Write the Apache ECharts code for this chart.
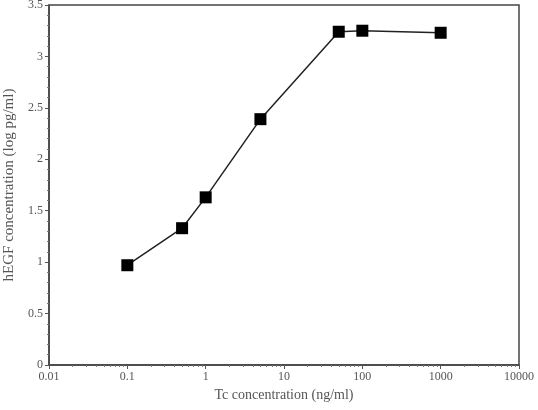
<!DOCTYPE html>
<html><head><meta charset="utf-8">
<script src="https://cdn.jsdelivr.net/npm/echarts@6/dist/echarts.min.js"></script>
<style>html,body{margin:0;padding:0;background:#fff}#c{width:538px;height:410px}</style>
</head><body><div id="c"></div>
<script>
var xValues = [0.1, 0.5, 1, 5, 50, 100, 1000];
var yValues = [0.97, 1.33, 1.63, 2.39, 3.24, 3.25, 3.23];
var xTitle = 'Tc concentration (ng/ml)';
var yTitle = 'hEGF concentration (log pg/ml)';

var data = xValues.map(function(x, i){ return [x, yValues[i]]; });
var font = 'Liberation Serif';
var chart = echarts.init(document.getElementById('c'));
chart.setOption({
  animation: false,
  grid: {left: 49, right: 19, top: 5, bottom: 45, show: true, borderColor: '#444', borderWidth: 1.5,
    outerBoundsMode: 'none', containLabel: false},
  xAxis: {
    type: 'log', logBase: 10, min: 0.01, max: 10000,
    name: xTitle, nameLocation: 'middle', nameGap: 22,
    nameTextStyle: {fontFamily: font, fontSize: 14, color: '#555'},
    axisLine: {lineStyle: {color: '#444', width: 1.5}},
    axisTick: {inside: false, length: 4, lineStyle: {color: '#555'}},
    minorTick: {show: true, splitNumber: 9, length: 2, lineStyle: {color: '#777'}},
    splitLine: {show: false},
    axisLabel: {fontFamily: font, fontSize: 12, color: '#555', margin: 6,
      formatter: function(v){ return String(+v.toPrecision(6)); }}
  },
  yAxis: {
    type: 'value', min: 0, max: 3.5, interval: 0.5,
    name: yTitle, nameLocation: 'middle', nameGap: 32,
    nameTextStyle: {fontFamily: font, fontSize: 15, color: '#555'},
    axisLine: {show: true, lineStyle: {color: '#444', width: 1.5}},
    axisTick: {show: true, inside: false, length: 4, lineStyle: {color: '#555'}},
    minorTick: {show: true, splitNumber: 5, length: 2, lineStyle: {color: '#777'}},
    splitLine: {show: false},
    axisLabel: {fontFamily: font, fontSize: 12, color: '#555', margin: 6}
  },
  series: [{
    type: 'line', data: data,
    symbol: 'rect', symbolSize: 12,
    itemStyle: {color: '#000'},
    lineStyle: {color: '#222', width: 1.5}
  }]
});
</script></body></html>
